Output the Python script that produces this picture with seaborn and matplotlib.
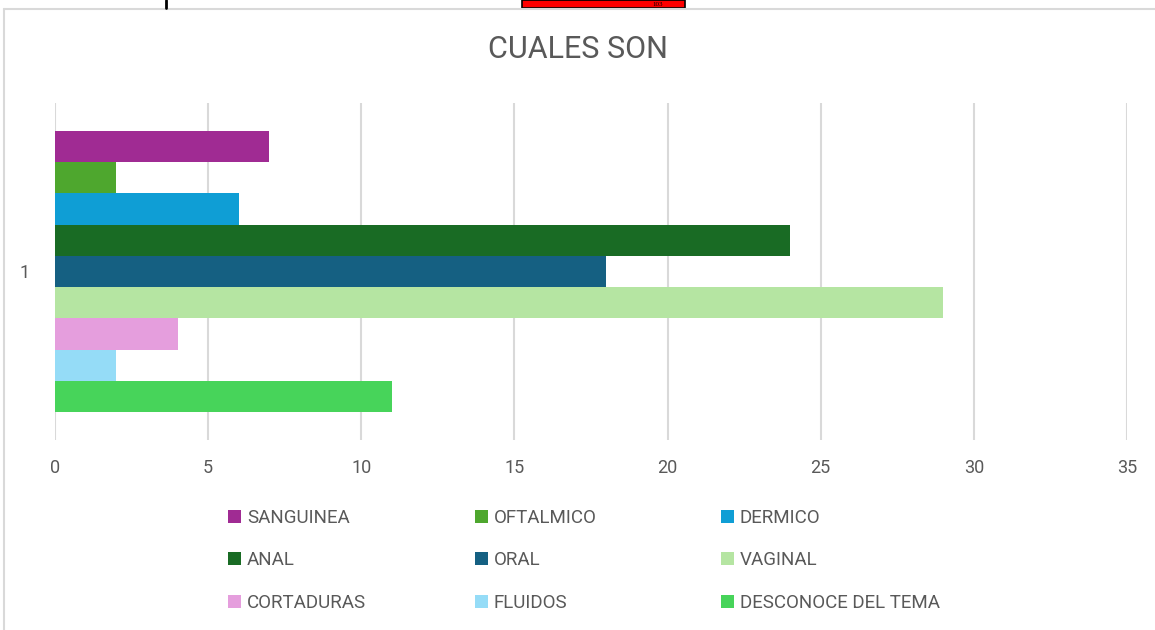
import pandas as pd
import matplotlib
matplotlib.use("Agg")
import matplotlib.pyplot as plt
import seaborn as sns
from matplotlib.lines import Line2D
from matplotlib.patches import Rectangle

# %% data
grupo = ["1"]
series = ["SANGUINEA", "OFTALMICO", "DERMICO", "ANAL", "ORAL", "VAGINAL",
          "CORTADURAS", "FLUIDOS", "DESCONOCE DEL TEMA"]
valores = [7, 2, 6, 24, 18, 29, 4, 2, 11]
colores = ["#A02B93", "#4EA72E", "#0F9ED5", "#196B24", "#156082", "#B5E5A2",
           "#E59EDD", "#95DCF7", "#47D45A"]
x_ticks = [0, 5, 10, 15, 20, 25, 30, 35]

df = pd.DataFrame({"grupo": grupo * len(series), "serie": series, "valor": valores})

# %% style
sns.set_theme(style="white")
plt.rcParams["font.family"] = ["Roboto", "DejaVu Sans"]
gris = "#595959"

fig = plt.figure(figsize=(11.55, 6.3), dpi=100)
ax = fig.add_axes([55 / 1155, 1 - 440 / 630, (1127 - 55) / 1155, (440 - 103) / 630])

sns.barplot(data=df, x="valor", y="grupo", hue="serie", hue_order=series,
            palette=colores, width=0.834, orient="h", saturation=1,
            linewidth=0, ax=ax)

handles, labels = ax.get_legend_handles_labels()
ax.get_legend().remove()

ax.set_xlim(0, 35)
ax.set_xticks(x_ticks)
ax.grid(axis="x", color="#D9D9D9", linewidth=1.5)
ax.grid(axis="y", visible=False)
ax.set_axisbelow(True)
for s in ax.spines.values():
    s.set_visible(False)
ax.set_xlabel("")
ax.set_ylabel("")
ax.tick_params(axis="x", length=0, pad=14, labelsize=13, labelcolor=gris)
ax.tick_params(axis="y", length=0, pad=18, labelsize=13, labelcolor=gris)

fig.text(0.5, 1 - 49 / 630, "CUALES SON", ha="center", va="center",
         fontsize=22, color=gris)

# legend: three columns, row-major like Excel
col_x = [228 / 1155, 475 / 1155, 721 / 1155]
for i, cx in enumerate(col_x):
    idx = [i, i + 3, i + 6]
    fig.legend([handles[j] for j in idx], [labels[j] for j in idx],
               loc="upper left", bbox_to_anchor=(cx, 1 - 509 / 630),
               frameon=False, fontsize=13.5, labelcolor=gris,
               handlelength=0.7, handleheight=0.7, handletextpad=0.3,
               labelspacing=1.3, borderpad=0, borderaxespad=0)

# chart frame and the strip of the neighbouring chart above it
fig.add_artist(Line2D([4 / 1155, 4 / 1155], [0, 1 - 9 / 630], color="#D9D9D9", lw=1.5))
fig.add_artist(Line2D([4 / 1155, 1], [1 - 9 / 630, 1 - 9 / 630], color="#D9D9D9", lw=1.5))
fig.add_artist(Line2D([166 / 1155, 166 / 1155], [1 - 8 / 630, 1], color="black", lw=2))
fig.add_artist(Rectangle((522 / 1155, 1 - 8 / 630), (685 - 522) / 1155, 8 / 630,
                         facecolor="red", edgecolor="black", lw=1.2))
fig.text(658 / 1155, 1 - 7.5 / 630, "103", ha="center", va="bottom",
         fontsize=5, family="Liberation Serif", color="black")

fig.savefig("out.png", dpi=100)
